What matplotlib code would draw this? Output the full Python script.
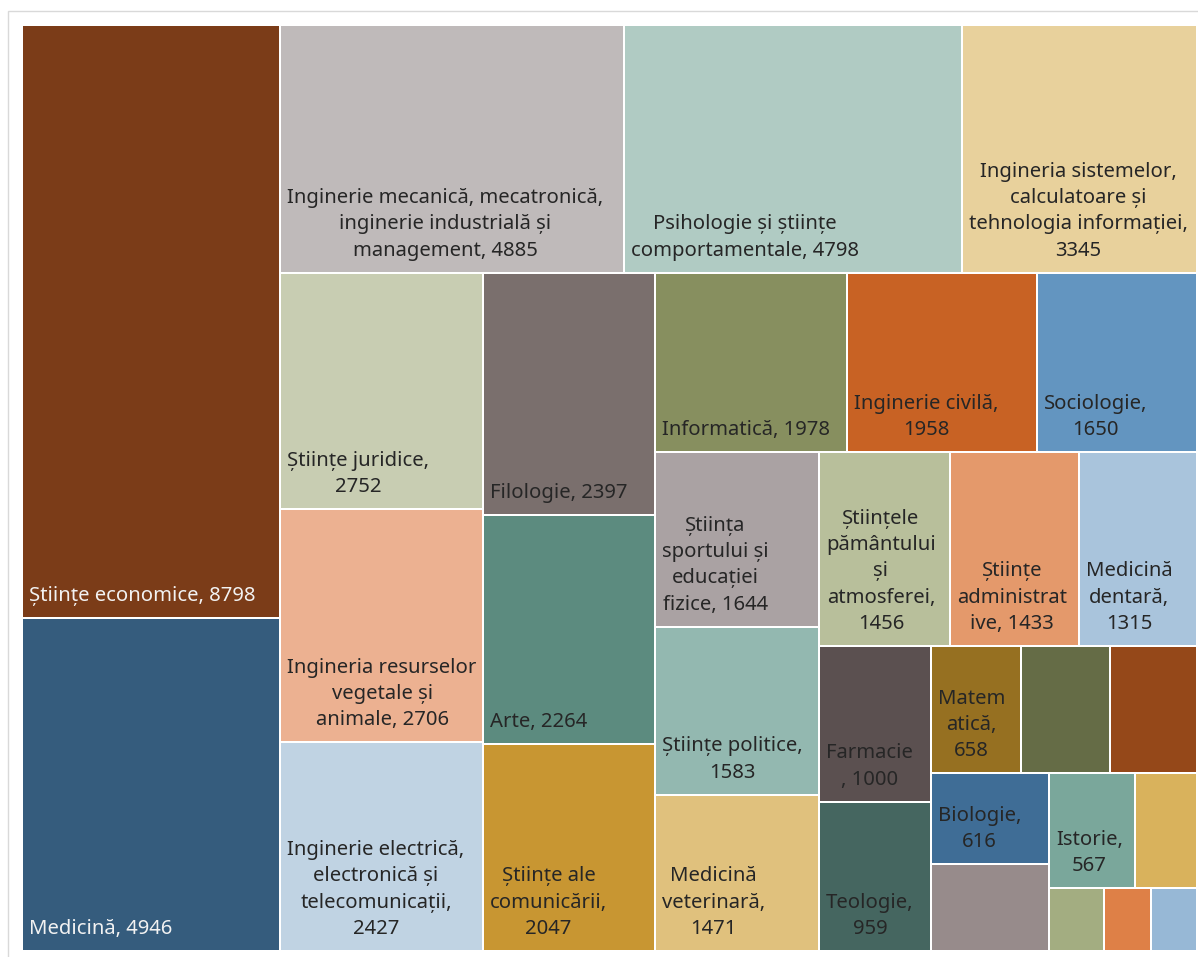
#!/usr/bin/env python3
"""Treemap of enrolment by field of study (Excel-style squarified layout)."""

import matplotlib.pyplot as plt
from matplotlib.patches import Rectangle

# label templates ({} is replaced by the value); "" means the cell has no label
labels = [
    "Științe economice, {}",
    "Medicină, {}",
    "Inginerie mecanică, mecatronică,\ninginerie industrială și\nmanagement, {}",
    "Psihologie și științe\ncomportamentale, {}",
    "Ingineria sistemelor,\ncalculatoare și\ntehnologia informației,\n{}",
    "Științe juridice,\n{}",
    "Ingineria resurselor\nvegetale și\nanimale, {}",
    "Inginerie electrică,\nelectronică și\ntelecomunicații,\n{}",
    "Filologie, {}",
    "Arte, {}",
    "Științe ale\ncomunicării,\n{}",
    "Informatică, {}",
    "Inginerie civilă,\n{}",
    "Sociologie,\n{}",
    "Știința\nsportului și\neducației\nfizice, {}",
    "Științe politice,\n{}",
    "Medicină\nveterinară,\n{}",
    "Științele\npământului\nși\natmosferei,\n{}",
    "Științe\nadministrat\nive, {}",
    "Medicină\ndentară,\n{}",
    "Farmacie\n, {}",
    "Teologie,\n{}",
    "Matem\natică,\n{}",
    "",
    "",
    "Biologie,\n{}",
    "",
    "Istorie,\n{}",
    "",
    "",
    "",
    "",
]

values = [8798, 4946, 4885, 4798, 3345, 2752, 2706, 2427, 2397, 2264, 2047,
          1978, 1958, 1650, 1644, 1583, 1471, 1456, 1433, 1315, 1000, 959,
          658, 650, 640, 616, 590, 567, 410, 196, 170, 166]

colors = [
    "#7B3C18", "#355C7D", "#BFBABA", "#B0CBC3", "#E8D19C", "#C8CDB2",
    "#ECB191", "#C0D3E3", "#7A6F6D", "#5C8B7F", "#C89632", "#878F5F",
    "#C86224", "#6395C0", "#AAA2A3", "#93B8B0", "#E0C17D", "#B8BF9B",
    "#E4996B", "#A9C4DC", "#5B5050", "#456660", "#967021", "#656C46",
    "#954819", "#3F6D96", "#978B8B", "#7AA79B", "#D9B25C", "#A3AD81",
    "#DE8047", "#97B8D6",
]

light_text = {0, 1}

# how many cells Excel packs into each strip (strips run along the shorter side)
strip_sizes = [2, 3, 3, 3, 3, 3, 3, 2, 3, 2, 2, 1, 1, 1]

W, H = 1175.0, 926.0  # plot area in pixels


def strip_treemap(vals, sizes, x, y, w, h):
    total = float(sum(vals))
    areas = [v * w * h / total for v in vals]
    rects = []
    i = 0
    for k in sizes:
        side = min(w, h)
        chunk = areas[i:i + k]
        t = sum(chunk) / side
        pos = 0.0
        for a in chunk:
            l = a / t
            if w >= h:  # column on the left, cells top to bottom
                rects.append((x, y + pos, t, l))
            else:  # row along the top, cells left to right
                rects.append((x + pos, y, l, t))
            pos += l
        if w >= h:
            x += t
            w -= t
        else:
            y += t
            h -= t
        i += k
    return rects


fig = plt.figure(figsize=(11.98, 9.57), dpi=100)
fig.patches.append(Rectangle((8 / 1198, -0.05), 1.1, 1 - 11 / 957 + 0.05,
                             transform=fig.transFigure, fill=False,
                             edgecolor="#D9D9D9", linewidth=1.0))

ax = fig.add_axes([22 / 1198, 6 / 957, W / 1198, H / 957])
ax.set_xlim(0, W)
ax.set_ylim(H, 0)
ax.axis("off")

gap = 1.0
rects = strip_treemap(values, strip_sizes, 0, 0, W, H)
for idx, ((rx, ry, rw, rh), lab, val, col) in enumerate(zip(rects, labels, values, colors)):
    ax.add_patch(Rectangle((rx + gap, ry + gap), rw - 2 * gap, rh - 2 * gap,
                           facecolor=col, edgecolor="none"))
    if lab:
        ax.text(rx + 7, ry + rh - 12, lab.format(val),
                ha="left", va="bottom", multialignment="center",
                fontsize=14.6, family=["Noto Sans", "DejaVu Sans"],
                linespacing=1.42,
                color="#F2F2F2" if idx in light_text else "#262626")

fig.savefig("out.png", dpi=100, facecolor="white")
